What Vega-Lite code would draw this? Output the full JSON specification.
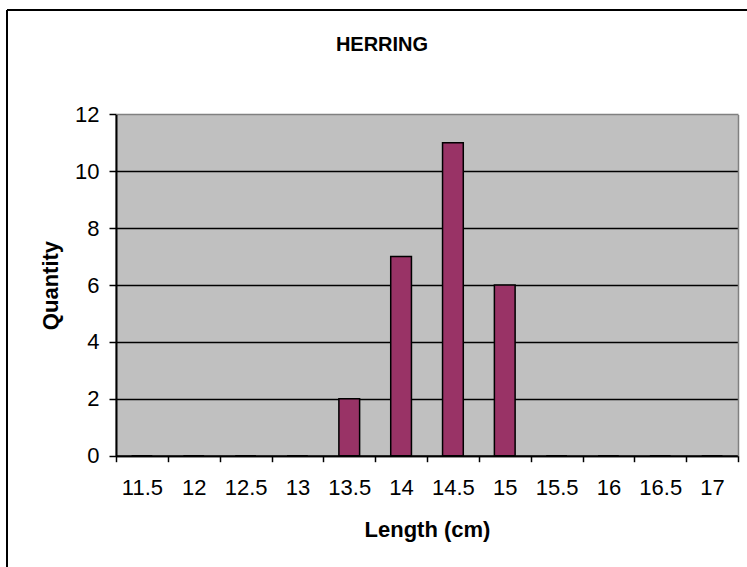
{
  "$schema": "https://vega.github.io/schema/vega-lite/v6.json",
  "width": 740,
  "height": 557,
  "autosize": {"type": "none"},
  "padding": {"left": 7, "top": 10, "right": 0, "bottom": 0},
  "background": "white",
  "title": {
    "text": "HERRING",
    "font": "Liberation Sans",
    "fontSize": 20,
    "fontWeight": "bold",
    "color": "black",
    "anchor": "middle",
    "frame": "group",
    "baseline": "alphabetic",
    "offset": -61,
    "dx": 5
  },
  "data": {
    "values": [
      {"length": "11.5", "quantity": 0},
      {"length": "12", "quantity": 0},
      {"length": "12.5", "quantity": 0},
      {"length": "13", "quantity": 0},
      {"length": "13.5", "quantity": 2},
      {"length": "14", "quantity": 7},
      {"length": "14.5", "quantity": 11},
      {"length": "15", "quantity": 6},
      {"length": "15.5", "quantity": 0},
      {"length": "16", "quantity": 0},
      {"length": "16.5", "quantity": 0},
      {"length": "17", "quantity": 0}
    ]
  },
  "layer": [
    {
      "mark": {"type": "bar", "fill": "#993366", "width": {"band": 0.4}},
      "encoding": {
        "x": {
          "field": "length",
          "type": "ordinal",
          "sort": null,
          "scale": {"type": "band", "range": [109, 731], "paddingInner": 0, "paddingOuter": 0},
          "axis": {
            "orient": "bottom",
            "offset": -111.3,
            "grid": false,
            "tickBand": "extent",
            "domainColor": "black",
            "domainWidth": 2,
            "tickColor": "black",
            "tickWidth": 1.5,
            "tickSize": 6,
            "labelAngle": 0,
            "labelFont": "Liberation Sans",
            "labelFontSize": 22,
            "labelColor": "black",
            "labelBaseline": "alphabetic",
            "labelPadding": 33,
            "labelOverlap": false,
            "title": "Length (cm)",
            "titleFont": "Liberation Sans",
            "titleFontSize": 22,
            "titleFontWeight": "bold",
            "titleColor": "black",
            "titleBaseline": "alphabetic",
            "titleY": 81
          }
        },
        "y": {
          "field": "quantity",
          "type": "quantitative",
          "scale": {"domain": [0, 12], "range": [445.7, 104.4], "nice": false},
          "axis": {
            "orient": "left",
            "offset": -109,
            "values": [0, 2, 4, 6, 8, 10, 12],
            "grid": true,
            "gridColor": {"condition": {"test": "datum.value === 12", "value": "#808080"}, "value": "black"},
            "gridWidth": 1.5,
            "gridOpacity": 1,
            "domainColor": "black",
            "domainWidth": 2,
            "tickColor": "black",
            "tickWidth": 1.5,
            "tickSize": 7,
            "labelFont": "Liberation Sans",
            "labelFontSize": 22,
            "labelColor": "black",
            "labelPadding": 10,
            "title": "Quantity",
            "titleFont": "Liberation Sans",
            "titleFontSize": 22,
            "titleFontWeight": "bold",
            "titleColor": "black",
            "titleAngle": -90,
            "titleBaseline": "alphabetic",
            "titleX": -59
          }
        }
      }
    },
    {
      "mark": {"type": "bar", "filled": false, "stroke": "black", "strokeWidth": 1.5, "width": {"band": 0.4}},
      "encoding": {
        "x": {
          "field": "length",
          "type": "ordinal",
          "sort": null,
          "scale": {"type": "band", "range": [109, 731], "paddingInner": 0, "paddingOuter": 0},
          "axis": {
            "orient": "top",
            "grid": true,
            "bandPosition": 0.5,
            "gridColor": "#C0C0C0",
            "gridOpacity": 1,
            "gridWidth": 53,
            "domain": false,
            "ticks": false,
            "labels": false,
            "title": null
          }
        },
        "y": {
          "field": "quantity",
          "type": "quantitative",
          "axis": {
            "orient": "right",
            "offset": -9,
            "grid": false,
            "domainColor": "#808080",
            "domainWidth": 1.5,
            "ticks": false,
            "labels": false,
            "title": null
          }
        }
      }
    }
  ],
  "resolve": {"axis": {"x": "independent", "y": "independent"}},
  "config": {
    "view": {"fill": "white", "stroke": "black", "strokeWidth": 2, "strokeDash": [740, 1297, 557, 0]}
  }
}
